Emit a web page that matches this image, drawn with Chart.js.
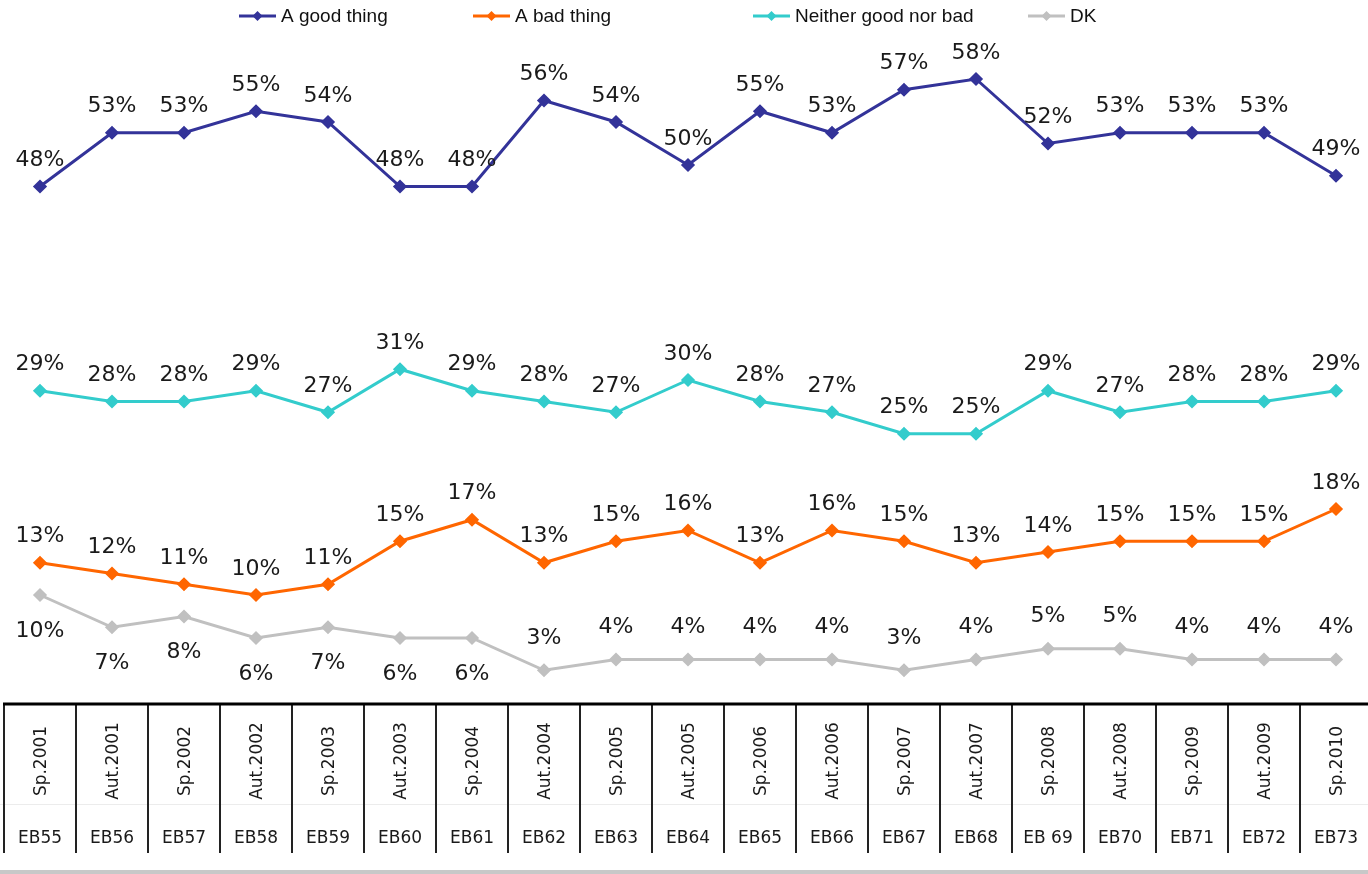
<!DOCTYPE html>
<html>
<head>
<meta charset="utf-8">
<script src="https://cdn.jsdelivr.net/npm/chart.js@4/dist/chart.umd.min.js"></script>
<style>
html, body { margin: 0; padding: 0; overflow: hidden; background: #fff; }
</style>
</head>
<body>
<canvas id="opinionChart" width="1376" height="874"></canvas>
<script>
// Survey waves (bottom table)
const waves = ['Sp.2001', 'Aut.2001', 'Sp.2002', 'Aut.2002', 'Sp.2003', 'Aut.2003', 'Sp.2004', 'Aut.2004', 'Sp.2005', 'Aut.2005',
    'Sp.2006', 'Aut.2006', 'Sp.2007', 'Aut.2007', 'Sp.2008', 'Aut.2008', 'Sp.2009', 'Aut.2009', 'Sp.2010'];
const ebCodes = ['EB55', 'EB56', 'EB57', 'EB58', 'EB59', 'EB60', 'EB61', 'EB62', 'EB63', 'EB64',
    'EB65', 'EB66', 'EB67', 'EB68', 'EB 69', 'EB70', 'EB71', 'EB72', 'EB73'];

// Series values (%)
const goodThing = [48, 53, 53, 55, 54, 48, 48, 56, 54, 50, 55, 53, 57, 58, 52, 53, 53, 53, 49];
const badThing = [13, 12, 11, 10, 11, 15, 17, 13, 15, 16, 13, 16, 15, 13, 14, 15, 15, 15, 18];
const neitherGoodBad = [29, 28, 28, 29, 27, 31, 29, 28, 27, 30, 28, 27, 25, 25, 29, 27, 28, 28, 29];
const dontKnow = [10, 7, 8, 6, 7, 6, 6, 3, 4, 4, 4, 4, 3, 4, 5, 5, 4, 4, 4];

const seriesNames = ['A good thing', 'A bad thing', 'Neither good nor bad', 'DK'];
const seriesColors = ['#333399', '#FF6600', '#33CCCC', '#C0C0C0'];

function makeDataset(i, values) {
    return {
        label: seriesNames[i],
        data: values,
        borderColor: seriesColors[i],
        backgroundColor: seriesColors[i],
        borderWidth: 3,
        pointStyle: 'rectRot',
        pointRadius: 5,
        pointHoverRadius: 5,
        tension: 0,
        fill: false
    };
}

// Percent labels next to every point
const valueLabels = {
    id: 'valueLabels',
    afterDatasetsDraw(chart) {
        const ctx = chart.ctx;
        ctx.save();
        ctx.font = '22px "DejaVu Sans"';
        ctx.fillStyle = '#1a1a1a';
        ctx.textAlign = 'center';
        ctx.textBaseline = 'middle';
        chart.data.datasets.forEach((ds, di) => {
            const meta = chart.getDatasetMeta(di);
            meta.data.forEach((pt, i) => {
                let dy = -26;
                if (di === 3) {
                    dy = i < 7 ? 36 : -32;
                }
                ctx.fillText(ds.data[i] + '%', pt.x, pt.y + dy);
            });
        });
        ctx.restore();
    }
};

// Legend drawn like the original (line with diamond)
const topLegend = {
    id: 'topLegend',
    afterDraw(chart) {
        const ctx = chart.ctx;
        const starts = [239, 473, 753, 1028];
        const y = 16;
        ctx.save();
        ctx.font = '19px "Liberation Sans"';
        ctx.textBaseline = 'middle';
        ctx.textAlign = 'left';
        seriesNames.forEach((name, i) => {
            const x = starts[i];
            ctx.strokeStyle = seriesColors[i];
            ctx.fillStyle = seriesColors[i];
            ctx.lineWidth = 3;
            ctx.beginPath();
            ctx.moveTo(x, y);
            ctx.lineTo(x + 37, y);
            ctx.stroke();
            ctx.beginPath();
            ctx.moveTo(x + 18.5, y - 5);
            ctx.lineTo(x + 23.5, y);
            ctx.lineTo(x + 18.5, y + 5);
            ctx.lineTo(x + 13.5, y);
            ctx.closePath();
            ctx.fill();
            ctx.fillStyle = '#111';
            ctx.fillText(name, x + 42, y + 1);
        });
        ctx.restore();
    }
};

// Table under the chart with waves and EB codes
const waveTable = {
    id: 'waveTable',
    afterDraw(chart) {
        const ctx = chart.ctx;
        const xs = chart.scales.x;
        const step = xs.getPixelForValue(1) - xs.getPixelForValue(0);
        const top = 704;
        const bottom = 853;
        const split = 804;
        ctx.save();
        // faint row separator
        ctx.strokeStyle = '#ececec';
        ctx.lineWidth = 1;
        ctx.beginPath();
        ctx.moveTo(0, split + 0.5);
        ctx.lineTo(chart.width, split + 0.5);
        ctx.stroke();
        // vertical cell borders
        ctx.strokeStyle = '#222';
        ctx.lineWidth = 2;
        for (let i = 0; i <= waves.length; i++) {
            const x = xs.getPixelForValue(i) - step / 2;
            ctx.beginPath();
            ctx.moveTo(x, top);
            ctx.lineTo(x, bottom);
            ctx.stroke();
        }
        // top border
        ctx.strokeStyle = '#000';
        ctx.lineWidth = 3;
        ctx.beginPath();
        ctx.moveTo(xs.getPixelForValue(0) - step / 2 - 1, top);
        ctx.lineTo(chart.width, top);
        ctx.stroke();
        // bottom grey band
        ctx.fillStyle = '#C8C8C8';
        ctx.fillRect(0, 870, chart.width, 4);

        ctx.fillStyle = '#1a1a1a';
        ctx.font = '17px "DejaVu Sans"';
        waves.forEach((w, i) => {
            const x = xs.getPixelForValue(i);
            ctx.save();
            ctx.translate(x + 2, 761);
            ctx.rotate(-Math.PI / 2);
            ctx.textAlign = 'center';
            ctx.textBaseline = 'middle';
            ctx.fillText(w, 0, 0);
            ctx.restore();
            ctx.textAlign = 'center';
            ctx.textBaseline = 'middle';
            ctx.fillText(ebCodes[i], x, 839);
        });
        ctx.restore();
    }
};

const ctx = document.getElementById('opinionChart').getContext('2d');
const opinionChart = new Chart(ctx, {
    type: 'line',
    data: {
        labels: waves,
        datasets: [
            makeDataset(0, goodThing),
            makeDataset(1, badThing),
            makeDataset(2, neitherGoodBad),
            makeDataset(3, dontKnow)
        ]
    },
    options: {
        responsive: false,
        animation: false,
        layout: {
            autoPadding: false,
            padding: { top: 57.5, bottom: 171.5, left: 4, right: 4 }
        },
        scales: {
            x: { display: false, offset: true },
            y: { display: false, min: 0, max: 60 }
        },
        plugins: {
            legend: { display: false },
            tooltip: { enabled: false }
        }
    },
    plugins: [valueLabels, topLegend, waveTable]
});
</script>
</body>
</html>
